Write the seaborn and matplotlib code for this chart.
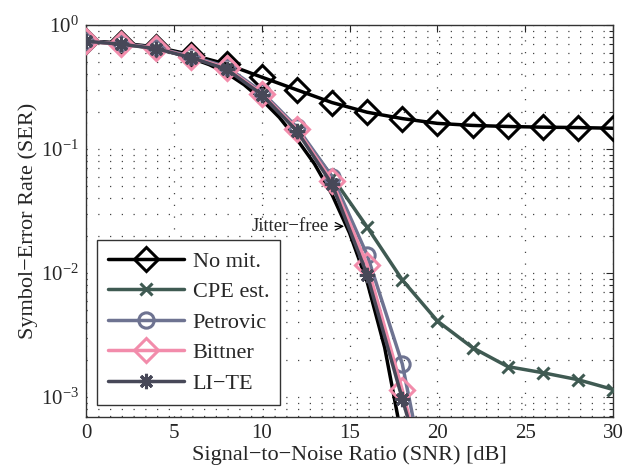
import numpy as np
import pandas as pd
import seaborn as sns
import matplotlib.pyplot as plt
from matplotlib.ticker import LogLocator, NullFormatter, MultipleLocator

# SNR grid (dB)
snr_full = [0, 2, 4, 6, 8, 10, 12, 14, 16, 18, 20, 22, 24, 26, 28, 30]
snr_short = [0, 2, 4, 6, 8, 10, 12, 14, 16, 18, 20]
snr_free = [0, 1, 2, 3, 4, 5, 6, 7, 8, 9, 10, 11, 12, 13, 14, 15, 16, 17, 18]

# SER curves
ser_nomit = [0.74, 0.715, 0.665, 0.575, 0.483, 0.38, 0.30, 0.237, 0.198, 0.176,
             0.161, 0.155, 0.152, 0.150, 0.149, 0.147]
ser_cpe = [0.74, 0.70, 0.65, 0.55, 0.45, 0.28, 0.145, 0.06, 0.0235, 0.0088,
           0.0041, 0.0025, 0.00176, 0.00157, 0.00138, 0.00115]
ser_petrovic = [0.74, 0.71, 0.655, 0.56, 0.46, 0.29, 0.15, 0.06, 0.014, 0.00185, 0.00007]
ser_bittner = [0.74, 0.70, 0.65, 0.55, 0.45, 0.28, 0.145, 0.055, 0.0117, 0.00114, 0.00009]
ser_lite = [0.74, 0.70, 0.645, 0.545, 0.44, 0.275, 0.14, 0.052, 0.0097, 0.00097, 0.0001]
ser_free = [0.74, 0.73, 0.71, 0.68, 0.64, 0.595, 0.54, 0.48, 0.41, 0.33, 0.25, 0.18,
            0.12, 0.076, 0.043, 0.021, 0.0085, 0.0025, 0.00045]

sns.set_theme(style='white')
plt.rcParams['font.family'] = ['Liberation Serif', 'DejaVu Serif']
plt.rcParams['mathtext.fontset'] = 'stix'

fig = plt.figure(figsize=(6.25, 4.72), dpi=100)
ax = fig.add_axes([0.1376, 0.1165, 0.8434, 0.8305])

# jitter-free reference curve (no markers)
sns.lineplot(x=snr_free, y=ser_free, color='black', lw=2.5, ax=ax, legend=False, zorder=2)

lines = []
series = [
    ('No mit.', snr_full, ser_nomit, 'black', 'D', 12.5),
    ('CPE est.', snr_full, ser_cpe, '#3f5a52', 'x', 9),
    ('Petrovic', snr_short, ser_petrovic, '#6e7391', 'o', 11),
    ('Bittner', snr_short, ser_bittner, '#f28cab', 'D', 12),
    ('LI\u2212TE', snr_short, ser_lite, '#474858', (8, 2, 0), 11),
]
for name, xs, ys, col, mk, ms in series:
    sns.lineplot(x=xs, y=ys, color=col, lw=2.5, marker=mk, markersize=ms,
                 markerfacecolor='none', markeredgecolor=col, markeredgewidth=2.2,
                 label=name, ax=ax, zorder=3)
    lines.append(ax.lines[-1])

ax.set_yscale('log')
ax.set_xlim(0, 30)
ax.set_ylim(6.9e-4, 1.0)

ax.xaxis.set_major_locator(MultipleLocator(5))
ax.yaxis.set_major_locator(LogLocator(base=10, numticks=10))
ax.yaxis.set_minor_locator(LogLocator(base=10, subs=np.arange(2, 10), numticks=10))
ax.yaxis.set_minor_formatter(NullFormatter())

# MATLAB-like dotted grid
ax.grid(which='major', axis='both', color='#444444', linestyle=(0, (1, 8.4)), lw=0.9)
ax.grid(which='minor', axis='y', color='#444444', linestyle=(0, (1, 8.4)), lw=0.9)

ax.tick_params(which='both', direction='in', top=True, right=True, labelsize=15)
ax.tick_params(which='major', length=5, width=0.8, pad=5)
ax.tick_params(which='minor', length=3, width=0.8)
for s in ax.spines.values():
    s.set_color('#333333')
    s.set_linewidth(1.0)

ax.set_xlabel('Signal\u2212to\u2212Noise Ratio (SNR) [dB]', fontsize=16, labelpad=2)
ax.set_ylabel('Symbol\u2212Error Rate (SER)', fontsize=16, labelpad=2)

ax.annotate('Jitter\u2212free', xy=(14.85, 0.0238), xytext=(-13, 0), textcoords='offset points',
            ha='right', va='center', fontsize=13.5,
            arrowprops=dict(arrowstyle='->', color='black', lw=0.9))

leg = ax.legend(handles=lines, loc='lower left', bbox_to_anchor=(0.021, 0.031),
                borderaxespad=0, fontsize=16, handlelength=3.4, handletextpad=0.4,
                labelspacing=0.45, fancybox=False, framealpha=1, edgecolor='#333333',
                borderpad=0.5)
leg.get_frame().set_linewidth(1.0)

fig.savefig('out.png', dpi=100)
